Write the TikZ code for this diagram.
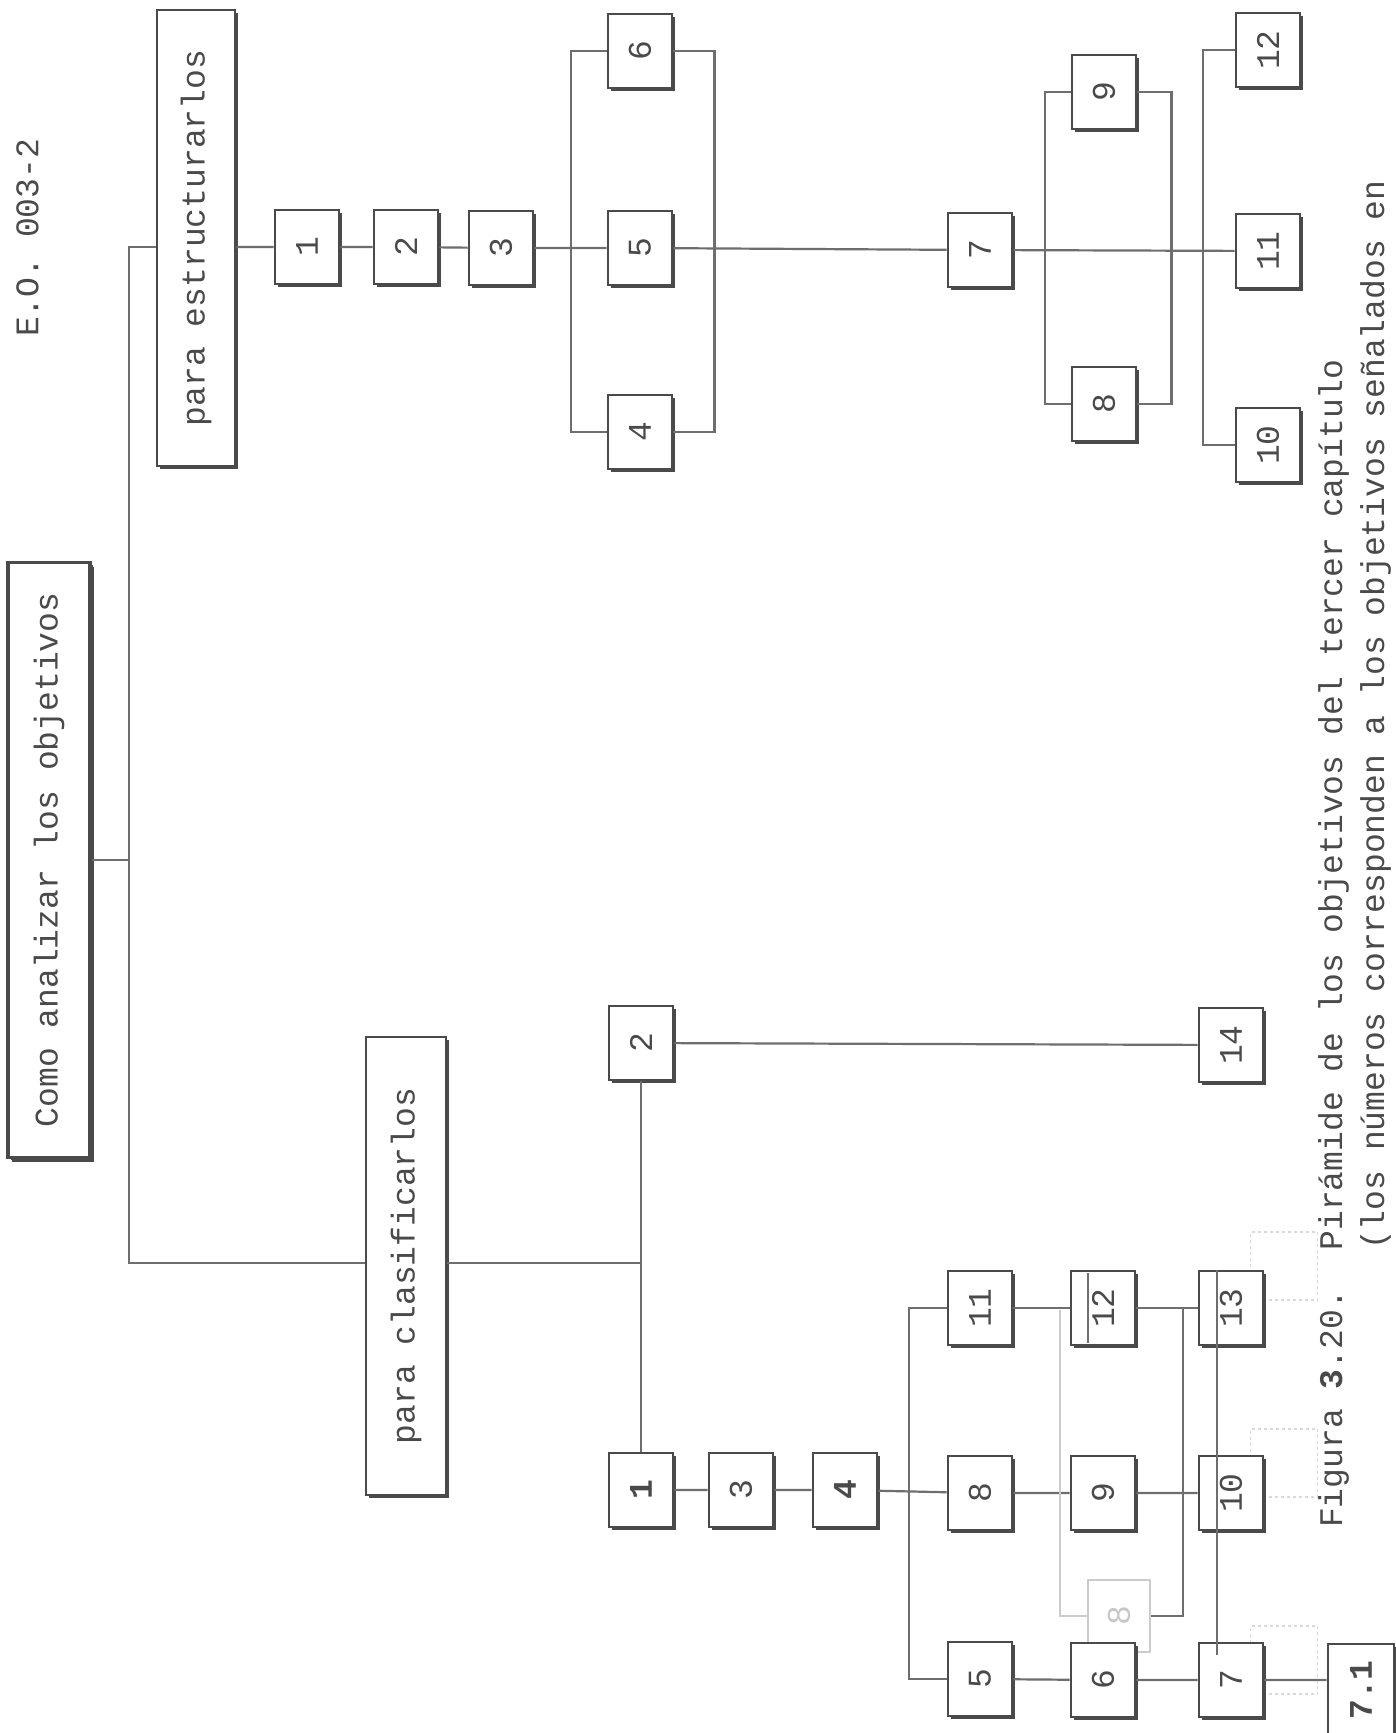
\documentclass[tikz,border=0pt]{standalone}
\usepackage{fontspec}
\usepackage{graphicx}
\setmonofont{Liberation Mono}
\usetikzlibrary{shadows}

\definecolor{ink}{HTML}{4A4A4A}
\definecolor{rule}{HTML}{6E6E6E}
\newcommand{\tfont}{\ttfamily\fontsize{33}{38}\selectfont}
\newcommand{\rotlbl}[1]{\rotatebox{90}{#1}}

\begin{document}
\begin{tikzpicture}[x=1pt,y=-1pt,
    numbox/.style={draw=ink, line width=2.8pt, fill=white, inner sep=0pt,
      minimum width=64pt, minimum height=74pt, font=\tfont, text=ink,
      drop shadow={shadow xshift=2.8pt, shadow yshift=-2.8pt, fill=ink, opacity=1}},
    headbox/.style={numbox, minimum width=78pt},
    conn/.style={draw=rule, line width=2.2pt},
    ghost/.style={draw=black!20, line width=1.2pt, inner sep=0pt},
    lbl/.style={font=\tfont, text=ink, inner sep=0pt}
]
\useasboundingbox (0,0) rectangle (1396,1733);
\fill[white] (0,0) rectangle (1396,1733);
\clip (0,0) rectangle (1396,1733);

% heading and root
\node[lbl, anchor=south west] (code) at (16,337) {\rotlbl{E.O. 003-2}};
\node[headbox, line width=3.2pt, minimum width=82pt, minimum height=595pt,
  drop shadow={shadow xshift=4pt, shadow yshift=-4pt, fill=ink, opacity=1}]
  (root) at (49,860) {\rotlbl{Como analizar los objetivos}};
\node[headbox, minimum height=456pt] (estr) at (196,238) {\rotlbl{para estructurarlos}};
\node[headbox, minimum width=80pt, minimum height=458pt] (clas) at (406,1266) {\rotlbl{para clasificarlos}};

\coordinate (t0) at (129,247);
\coordinate (t1) at (129,1263);
\coordinate (t2) at (641,1263);
\draw[conn] (root.east) -- (root.east -| t0);
\draw[conn] (estr.west |- t0) -- (t0) -- (t1) -- (t1 -| clas.west);
\draw[conn] (clas.east |- t2) -- (t2);

% upper branch: para estructurarlos
\foreach \n/\x/\y in {1/307/247, 2/406/247, 3/501/248, 4/640/432, 5/640/248, 6/640/51,
    7/980/250, 8/1104/404, 9/1104/92, 10/1268/445, 11/1268/251, 12/1268/50} {
  \node[numbox] (e\n) at (\x,\y) {\rotlbl{\n}};
}
\draw[conn] (estr.east |- e1) -- (e1) -- (e2) -- (e3) -- (e5) -- (e7) -- (e11);
\draw[conn] (e6.west) -- ++(-36,0) |- (e4.west);
\draw[conn] (e6.east) -- ++(41,0) |- (e4.east);
\draw[conn] (e9.west) -- ++(-26,0) |- (e8.west);
\draw[conn] (e9.east) -- ++(34,0) |- (e8.east);
\draw[conn] (e12.west) -- ++(-32,0) |- (e10.west);

% lower branch: para clasificarlos
\node[ghost, minimum width=62pt, minimum height=72pt, font=\tfont, text=black!22]
  (g8) at (1119,1616) {\rotlbl{8}};
\foreach \y/\n in {1266/13, 1463/10, 1660/7} {
  \node[ghost, dashed, draw=black!15, minimum width=67pt, minimum height=68pt] (d\n) at (1284,\y) {};
}
\foreach \n/\x/\y in {2/641/1043, 3/741/1490, 5/980/1679, 6/1103/1680, 7/1231/1680,
    8/980/1493, 9/1103/1493, 10/1231/1493, 11/980/1308, 12/1103/1308, 13/1231/1308, 14/1231/1045} {
  \node[numbox] (c\n) at (\x,\y) {\rotlbl{\n}};
}
\node[numbox] (c1) at (641,1490) {\rotlbl{\bfseries 1}};
\node[numbox] (c4) at (845,1490) {\rotlbl{\bfseries 4}};
\node[numbox, minimum width=66pt, minimum height=92pt] (c71) at (1361,1690) {\rotlbl{\bfseries 7.1}};

\coordinate (k1) at (1183,1308);
\coordinate (k2) at (1060,1310);
\draw[conn] (c2) -- (c1);
\draw[conn] (c2) -- (c14);
\draw[conn] (c1) -- (c3) -- (c4) -- (c8) -- (c9) -- (c10);
\draw[conn] (c11.west) -- ++(-38,0) |- (c5.west);
\draw[conn] (c11) -- (c12) -- (c13);
\draw[conn] (c5) -- (c6) -- (c7) -- (c7 -| c71.west);
\draw[conn] (g8.east) -| (k1);
\draw[ghost] (g8.west) -| (k2);
\draw[conn, line width=1.4pt] (c13.north -| 1217,0) -- (1217,1655);
\draw[conn, line width=1.4pt] (1088,1273) -- (1088,1343);

% caption
\node[lbl, anchor=south west] (cap1) at (1318,1528)
  {\rotlbl{Figura {\bfseries 3}.20.~~Pirámide de los objetivos del tercer capítulo}};
\node[lbl, anchor=south west] (cap2) at (1360,1250)
  {\rotlbl{(los números corresponden a los objetivos señalados en}};
\end{tikzpicture}
\end{document}
